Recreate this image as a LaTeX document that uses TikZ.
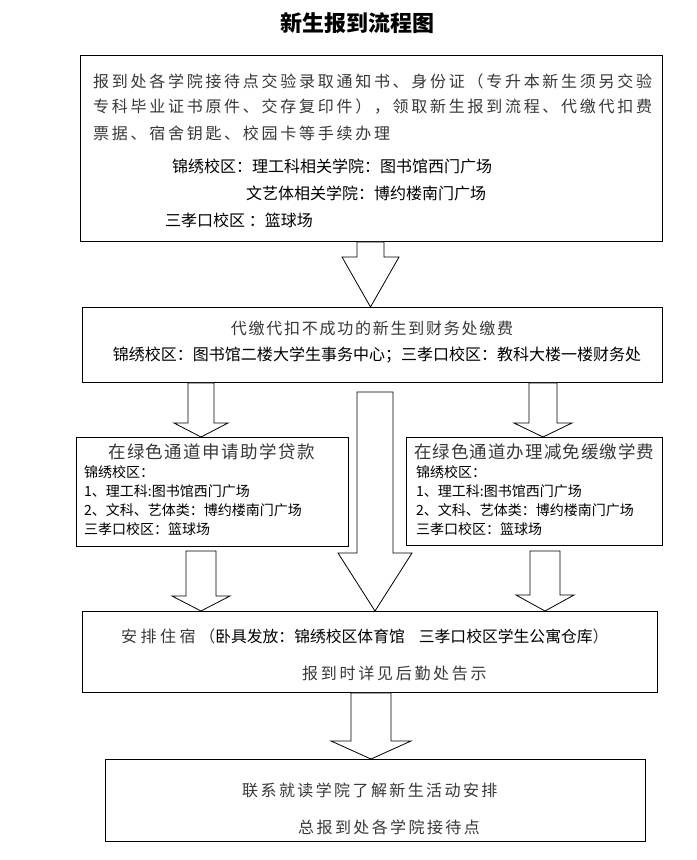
\documentclass[tikz,border=0pt]{standalone}
\usepackage{fontspec}
\setmainfont{Noto Sans CJK SC}
\usetikzlibrary{calc}
\newcommand\songf[2]{\color{black!78}\fontsize{#1bp}{#1bp}\selectfont\addfontfeatures{LetterSpace=#2}}
\newcommand\heif[1]{\color{black}\fontsize{#1bp}{#1bp}\selectfont}
\newcommand\blockarrow[7]{%
  \draw[blockarr] let \p1=(#2.south), \p2=(#3.north) in
  ({(#1-#5)*1bp},{\y1-(#4)*1bp}) -- ({(#1-#5)*1bp},{\y2+(#7)*1bp}) --
  ({(#1-#6)*1bp},{\y2+(#7)*1bp}) -- ({(#1)*1bp},\y2) --
  ({(#1+#6)*1bp},{\y2+(#7)*1bp}) -- ({(#1+#5)*1bp},{\y2+(#7)*1bp}) --
  ({(#1+#5)*1bp},{\y1-(#4)*1bp}) -- cycle;}
\tikzset{
  box/.style={draw=black, line width=0.9bp, inner sep=0, anchor=north west},
  blockarr/.style={draw=black, line width=0.8bp, fill=white, line join=miter},
  txt/.style={inner sep=0, text=black},
  lt/.style={txt, anchor=west},
}
\begin{document}
\begin{tikzpicture}[x=1bp, y=-1bp]
\useasboundingbox[fill=white] (0,0) rectangle (697,860);

% title
\node[txt] (title) at (357,23) {\fontsize{22bp}{22bp}\selectfont\bfseries 新生报到流程图};

% boxes
\node[box, minimum width=582bp, minimum height=186bp] (b1) at (80,55) {};
\node[box, minimum width=580bp, minimum height=75bp] (b2) at (82,307) {};
\node[box, minimum width=272bp, minimum height=109bp] (b3l) at (76,437) {};
\node[box, minimum width=256bp, minimum height=108bp] (b3r) at (406,437) {};
\node[box, minimum width=575bp, minimum height=81bp] (b4) at (82,611) {};
\node[box, minimum width=540bp, minimum height=82bp] (b5) at (105,759) {};

% box 1 text
\node[lt] (t11) at (93,81) {\songf{16}{17}报到处各学院接待点交验录取通知书、身份证（专升本新生须另交验};
\node[lt] (t12) at (93,107) {\songf{16}{17}专科毕业证书原件、交存复印件），领取新生报到流程、代缴代扣费};
\node[lt] (t13) at (93,133) {\songf{16}{17}票据、宿舍钥匙、校园卡等手续办理};
\node[lt] (t14) at (172,166) {\heif{16}锦绣校区：理工科相关学院：图书馆西门广场};
\node[lt] (t15) at (246,193) {\heif{16}文艺体相关学院：博约楼南门广场};
\node[lt] (t16) at (165,220) {\heif{16}三孝口校区 ：篮球场};

% box 2 text
\node[txt] (t21) at (372,328) {\songf{16}{11}代缴代扣不成功的新生到财务处缴费};
\node[txt] (t22) at (377,355) {\heif{16}锦绣校区：图书馆二楼大学生事务中心；三孝口校区：教科大楼一楼财务处};

% box 3 left
\node[lt] (t31) at (108,452) {\songf{17.5}{8}在绿色通道申请助学贷款};
\node[lt] (t32) at (84,472) {\heif{14}锦绣校区：};
\node[lt] (t33) at (84,491) {\heif{14}1、理工科:图书馆西门广场};
\node[lt] (t34) at (84,510) {\heif{14}2、文科、艺体类：博约楼南门广场};
\node[lt] (t35) at (84,529) {\heif{14}三孝口校区：篮球场};

% box 3 right
\node[lt] (t41) at (414,452) {\songf{17.5}{6}在绿色通道办理减免缓缴学费};
\node[lt] (t42) at (416,472) {\heif{14}锦绣校区：};
\node[lt] (t43) at (416,491) {\heif{14}1、理工科:图书馆西门广场};
\node[lt] (t44) at (416,510) {\heif{14}2、文科、艺体类：博约楼南门广场};
\node[lt] (t45) at (416,529) {\heif{14}三孝口校区：篮球场};

% box 4
\node[lt] (t51) at (121,636) {\songf{16}{22}安排住宿（\heif{15.8}\addfontfeatures{LetterSpace=0}卧具发放：锦绣校区体育馆\hspace{14bp}三孝口校区学生公寓仓库\songf{16}{0}）};
\node[lt] (t52) at (302,673) {\songf{16}{17}报到时详见后勤处告示};

% box 5
\node[lt] (t61) at (242,790) {\songf{16}{15}联系就读学院了解新生活动安排};
\node[lt] (t62) at (298,827) {\songf{16}{15}总报到处各学院接待点};

% block arrows: x, from, to, top offset, shaft half, head half, head length
\blockarrow{370.5}{b1}{b2}{0}{13.5}{28.5}{50}
\blockarrow{201}{b2}{b3l}{0}{13}{27}{14}
\blockarrow{543}{b2}{b3r}{0}{14}{29}{14}
\blockarrow{375}{b2}{b4}{9}{18}{37}{58}
\blockarrow{201}{b3l}{b4}{4}{15}{29}{15}
\blockarrow{545}{b3r}{b4}{5}{15}{29}{16}
\blockarrow{371}{b4}{b5}{0}{20}{40}{18}
\end{tikzpicture}
\end{document}
